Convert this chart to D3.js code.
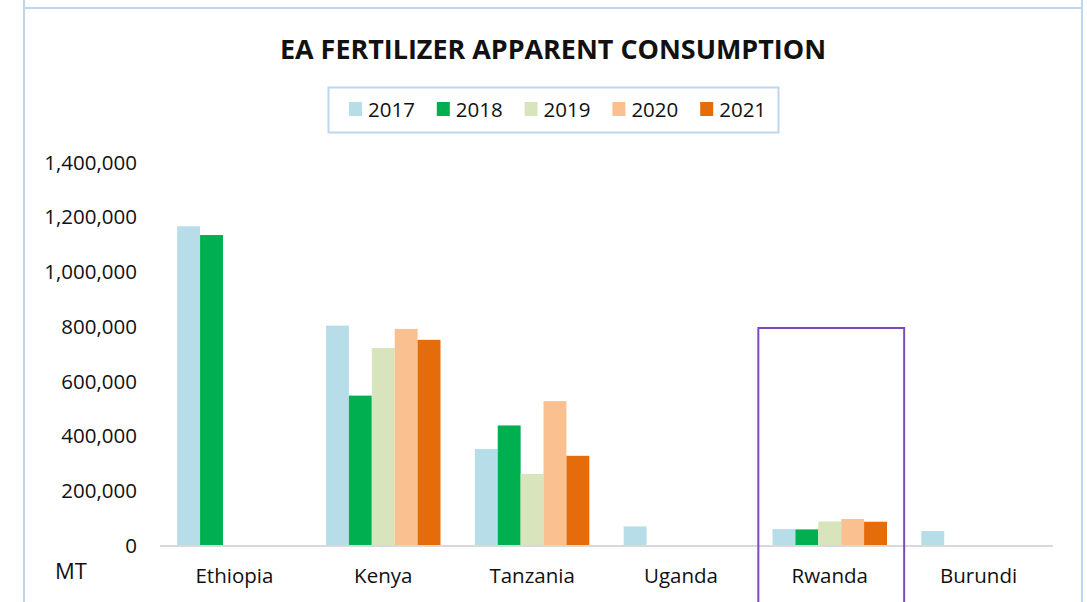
<!DOCTYPE html>
<html lang="en">
<head>
  <meta charset="UTF-8" />
  <title>EA Fertilizer Apparent Consumption</title>
  <script src="https://d3js.org/d3.v7.min.js"></script>
  <style>
    html, body { margin: 0; padding: 0; background: #fff; }
    svg text { font-family: "Open Sans", "Noto Sans", sans-serif; fill: #111; }
  </style>
</head>
<body>
  <div id="chart"></div>
  <script>
    // data (MT)
    var countries = ['Ethiopia', 'Kenya', 'Tanzania', 'Uganda', 'Rwanda', 'Burundi'];
    var years = ['2017', '2018', '2019', '2020', '2021'];
    var yearColors = ['#b7dde8', '#00b050', '#d8e4bc', '#fac090', '#e46c0a'];
    var v2017 = [1165000, 802000, 351000, 68000, 58000, 51000];
    var v2018 = [1133000, 546000, 437000, 0, 57000, 0];
    var v2019 = [0, 720000, 260000, 0, 86000, 0];
    var v2020 = [0, 790000, 526000, 0, 95000, 0];
    var v2021 = [0, 750000, 326000, 0, 85000, 0];
    var yTicks = [0, 200000, 400000, 600000, 800000, 1000000, 1200000, 1400000];
    var highlighted = 'Rwanda';

    var series = [v2017, v2018, v2019, v2020, v2021];
    var W = 1087, H = 602;
    var m = { left: 160, right: 1053, top: 162, bottom: 545 };

    var svg = d3.select('#chart').append('svg')
      .attr('width', W).attr('height', H);

    // outer frame
    svg.append('line').attr('x1', 24).attr('x2', 24).attr('y1', 0).attr('y2', H)
      .attr('stroke', '#bdd7ee').attr('stroke-width', 2);
    svg.append('line').attr('x1', 1082).attr('x2', 1082).attr('y1', 0).attr('y2', H)
      .attr('stroke', '#bdd7ee').attr('stroke-width', 2);
    svg.append('line').attr('x1', 24).attr('x2', 1082).attr('y1', 8).attr('y2', 8)
      .attr('stroke', '#bdd7ee').attr('stroke-width', 2);

    // title
    svg.append('text')
      .attr('x', 553).attr('y', 59)
      .attr('text-anchor', 'middle')
      .attr('font-size', 26).attr('font-weight', 700)
      .attr('textLength', 546).attr('lengthAdjust', 'spacingAndGlyphs')
      .text('EA FERTILIZER APPARENT CONSUMPTION');

    // legend
    svg.append('rect')
      .attr('x', 328.5).attr('y', 87.5).attr('width', 450).attr('height', 45)
      .attr('fill', '#fff').attr('stroke', '#bdd7ee').attr('stroke-width', 2);
    var legend = svg.selectAll('.leg').data(years).enter().append('g')
      .attr('transform', (d, i) => 'translate(' + (349 + i * 87.8) + ',0)');
    legend.append('rect')
      .attr('x', 0).attr('y', 102).attr('width', 13).attr('height', 14)
      .attr('fill', (d, i) => yearColors[i]);
    legend.append('text')
      .attr('x', 19).attr('y', 117)
      .attr('font-size', 20.5)
      .text(d => d);

    var x = d3.scaleBand().domain(countries).range([m.left, m.right]).paddingInner(0).paddingOuter(0);
    var groupW = x.bandwidth() * 5 / 6.5;
    var x1 = d3.scaleBand().domain(years).range([0, groupW]);
    var y = d3.scaleLinear().domain([0, 1400000]).range([m.bottom, m.top]);

    // y axis labels
    var yAxis = svg.append('g')
      .attr('transform', 'translate(137,0)')
      .call(d3.axisLeft(y).tickValues(yTicks).tickFormat(d3.format(',')).tickSize(0).tickPadding(0));
    yAxis.select('.domain').remove();
    yAxis.selectAll('text')
      .attr('font-size', 20.5).attr('fill', '#111')
      .attr('font-family', '"Open Sans", sans-serif')
      .attr('dy', '0.35em');

    // bars
    series.forEach(function (vals, s) {
      svg.append('g').selectAll('rect')
        .data(countries.map((c, i) => ({ c: c, v: vals[i] })).filter(d => d.v > 0))
        .enter().append('rect')
        .attr('x', d => x(d.c) + (x.bandwidth() - groupW) / 2 + x1(years[s]))
        .attr('y', d => y(d.v))
        .attr('width', x1.bandwidth())
        .attr('height', d => y(0) - y(d.v))
        .attr('fill', yearColors[s]);
    });

    // x axis line + labels
    svg.append('line')
      .attr('x1', m.left).attr('x2', m.right)
      .attr('y1', m.bottom + 1).attr('y2', m.bottom + 1)
      .attr('stroke', '#d9d9d9').attr('stroke-width', 2);
    var xAxis = svg.append('g')
      .attr('transform', 'translate(0,' + (m.bottom + 1) + ')')
      .call(d3.axisBottom(x).tickSize(0).tickPadding(0));
    xAxis.select('.domain').remove();
    xAxis.selectAll('text')
      .attr('font-size', 20.5).attr('fill', '#111')
      .attr('font-family', '"Open Sans", sans-serif')
      .attr('dy', 0).attr('y', 37);

    svg.append('text')
      .attr('x', 55).attr('y', 579)
      .attr('font-size', 22)
      .text('MT');

    // highlight box around Rwanda
    svg.append('rect')
      .attr('x', x(highlighted) + 3)
      .attr('y', 328)
      .attr('width', x.bandwidth() - 3)
      .attr('height', 300)
      .attr('fill', 'none')
      .attr('stroke', '#7d49bd').attr('stroke-width', 2);
  </script>
</body>
</html>
